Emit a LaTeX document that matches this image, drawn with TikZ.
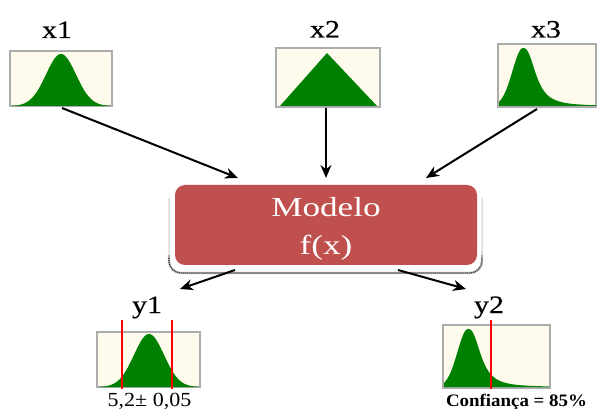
\documentclass[tikz,border=0pt]{standalone}
\usepackage{fontspec}
\setmainfont{Liberation Serif}
\newfontfamily\varfont[FakeBold=0.4]{Liberation Serif}
\usetikzlibrary{arrows.meta}
\definecolor{cream}{RGB}{254,250,236}
\definecolor{framegray}{RGB}{172,172,172}
\definecolor{bellgreen}{RGB}{0,128,0}
\definecolor{modelred}{RGB}{192,80,77}

\begin{document}
\begin{tikzpicture}[x=1pt,y=-1pt,
  distbox/.style={draw=framegray, line width=2pt, fill=cream, inner sep=0pt},
  varlabel/.style={anchor=base, inner sep=0pt, xscale=1.2, font=\varfont\fontsize{25}{27}\selectfont},
  modeltext/.style={anchor=base, inner sep=0pt, xscale=1.28, text=white, font=\fontsize{27.5}{30}\selectfont},
  link/.style={line width=2pt, -{Stealth[length=13pt,width=11pt]}},
  cutline/.style={red, line width=1.3pt},
  bell/.style={fill=bellgreen}]
\useasboundingbox (0,0) rectangle (598,409);

% input distributions
\node[distbox, minimum width=102pt, minimum height=55pt] (b1) at (61,78.5) {};
\node[distbox, minimum width=104pt, minimum height=59pt] (b2) at (328,77.5) {};
\node[distbox, minimum width=98pt, minimum height=63pt] (b3) at (547,75.5) {};

% x1: normal
\fill[bell] (11,106) -- plot[domain=11:111, samples=80] (\x, {106-52*exp(-((\x-61)^2)/450)}) -- (111,106) -- cycle;
% x2: triangular
\fill[bell] (280,106) -- (327,53) -- (377,106) -- cycle;
% x3: right-skewed
\fill[bell] (499,106) -- plot[domain=499:523, samples=30] (\x, {106-58*exp(-((\x-523)^2)/220)})
  -- plot[domain=523:596, samples=70] (\x, {106-58/(1+((\x-522.99)/14)^2.6)}) -- (596,106) -- cycle;

\node[varlabel] (lx1) at (57,38) {x1};
\node[varlabel] (lx2) at (325,37.5) {x2};
\node[varlabel] (lx3) at (546,37.5) {x3};

% model block with its raised outline
\draw[gray!45, line width=1pt, rounded corners=12pt] (169,198) -- (169,273) -- (482,273) -- (482,198);
\draw[gray!60, line width=2.2pt, rounded corners=12pt] (169,255) -- (169,273) -- (482,273) -- (482,255);
\draw[black!80, line width=1.1pt, dash pattern=on 1pt off 1pt, rounded corners=12pt] (169,258) -- (169,273) -- (482,273) -- (482,258);
\node[fill=modelred, rounded corners=10pt, minimum width=302pt, minimum height=80pt, inner sep=0pt] (model) at (326,225) {};
\node[modeltext] (mname) at (326,216.7) {Modelo};
\node[modeltext] (mfunc) at (326,254.5) {f(x)};

% arrow ends
\coordinate (s1) at (62,108);
\coordinate (e1) at (238,178);
\coordinate (s2) at (326,108);
\coordinate (e2) at (326,178);
\coordinate (s3) at (537,109);
\coordinate (e3) at (426,178);
\coordinate (s4) at (235,270);
\coordinate (e4) at (180,289);
\coordinate (s5) at (398,270);
\coordinate (e5) at (466,289);

\draw[link] (s1) -- (e1);
\draw[link] (s2) -- (e2);
\draw[link] (s3) -- (e3);
\draw[link] (s4) -- (e4);
\draw[link] (s5) -- (e5);

% output distributions
\node[distbox, minimum width=103pt, minimum height=55pt] (o1) at (148.5,359.5) {};
\node[distbox, minimum width=107pt, minimum height=63pt] (o2) at (496.5,356.5) {};

\fill[bell] (98,387) -- plot[domain=98:199, samples=80] (\x, {387-53*exp(-((\x-149)^2)/450)}) -- (199,387) -- cycle;
\fill[bell] (444,387) -- plot[domain=444:468, samples=30] (\x, {387-58*exp(-((\x-468)^2)/220)})
  -- plot[domain=468:549, samples=70] (\x, {387-58/(1+((\x-467.99)/14)^2.6)}) -- (549,387) -- cycle;

\draw[cutline] (122,320) -- (122,389);
\draw[cutline] (172,320) -- (172,389);
\draw[cutline] (491,320) -- (491,389);

\node[varlabel] (ly1) at (147,313) {y1};
\node[varlabel] (ly2) at (489,313) {y2};

\node[anchor=base, inner sep=0pt, xscale=1.1, font=\fontsize{20}{22}\selectfont] (ci) at (149.5,406) {5,2± 0,05};
\node[anchor=base, inner sep=0pt, xscale=1.08, font=\bfseries\fontsize{17.5}{19}\selectfont] (conf) at (516.5,406) {Confiança = 85\%};
\end{tikzpicture}
\end{document}
